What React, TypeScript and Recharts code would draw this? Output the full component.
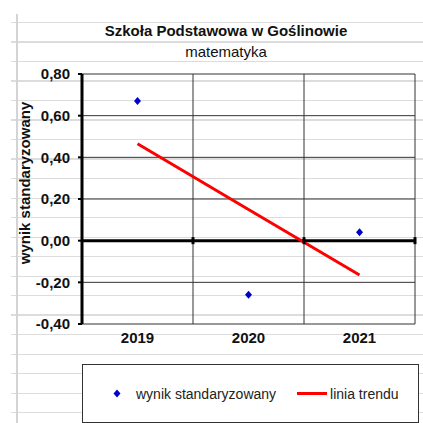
import {
  ComposedChart, Line, Scatter, XAxis, YAxis, CartesianGrid, Legend, ReferenceLine, ReferenceDot, Label
} from 'recharts'

const years = [2019, 2020, 2021]
const scores = [0.67, -0.26, 0.04]
const trend = [0.465, 0.15, -0.165]
const yearBounds = [2018.5, 2019.5, 2020.5, 2021.5]
const yTicks = [-0.4, -0.2, 0, 0.2, 0.4, 0.6, 0.8]

const rows = years.map((year, idx) => ({
  year,
  score: scores[idx],
  trend: trend[idx]
}))

const FONT = '"Liberation Sans", Arial, sans-serif'

const fmt = (v: number) => v.toFixed(2).replace('.', ',').replace('-0,00', '0,00')

function Diamond(props: any) {
  const { cx, cy } = props
  if (cx == null || cy == null) return null
  return (
    <path
      d={`M${cx},${cy - 4} L${cx + 3.5},${cy} L${cx},${cy + 4} L${cx - 3.5},${cy} Z`}
      fill="#0000cc"
    />
  )
}

function LegendBox() {
  return (
    <div style={{
      boxSizing: 'border-box', width: 337, height: 59, border: '1px solid #333',
      background: '#fff', display: 'flex', alignItems: 'center', paddingLeft: 30,
      fontFamily: FONT, fontSize: 14, color: '#222'
    }}>
      <svg width={8} height={9} style={{ marginRight: 15 }}>
        <path d="M4,0.5 L7.5,4.5 L4,8.5 L0.5,4.5 Z" fill="#0000cc" />
      </svg>
      <span>wynik standaryzowany</span>
      <span style={{ display: 'inline-block', width: 30, height: 3, background: '#ff0000', marginLeft: 21, marginRight: 3 }} />
      <span>linia trendu</span>
    </div>
  )
}

function YLabel(props: any) {
  const { viewBox } = props
  const y = viewBox.y + viewBox.height / 2 - 16
  return (
    <text
      x={24} y={y} transform={`rotate(-90 24 ${y})`} textAnchor="middle" dominantBaseline="central"
      style={{ fontFamily: FONT, fontSize: 15, fontWeight: 'bold', fill: '#111' }}
    >
      wynik standaryzowany
    </text>
  )
}

// small tick marks where the category boundaries cross the zero line
function ZeroTick(props: any) {
  const { cx, cy } = props
  if (cx == null || cy == null) return null
  return <line x1={cx} x2={cx} y1={cy - 3.5} y2={cy + 3.5} stroke="#000" strokeWidth={3} />
}

export default function App() {
  return (
    <div style={{ position: 'absolute', left: 0, top: 0, width: 423, height: 423, background: '#fff', overflow: 'hidden' }}>
      <div style={{
        position: 'absolute', left: 11, top: 4, right: 0, bottom: 0,
        backgroundImage: 'repeating-linear-gradient(to bottom, transparent 0px, transparent 18px, #dcdcdc 18px, #dcdcdc 19.5px)'
      }} />
      <div style={{ position: 'absolute', left: 16, top: 14, width: 1.5, bottom: 0, background: '#d4d4d4' }} />
      <div style={{
        position: 'absolute', left: 0, width: 452, top: 22, textAlign: 'center',
        fontFamily: FONT, fontSize: 15, fontWeight: 'bold', color: '#111'
      }}>
        Szkoła Podstawowa w Goślinowie
      </div>
      <div style={{
        position: 'absolute', left: 0, width: 452, top: 43, textAlign: 'center',
        fontFamily: FONT, fontSize: 15, color: '#111'
      }}>
        matematyka
      </div>
      <ComposedChart
        width={423}
        height={423}
        data={rows}
        margin={{ top: 74, right: 8, left: 0, bottom: 69 }}
        style={{ position: 'absolute', left: 0, top: 0 }}
      >
        <CartesianGrid stroke="#333" strokeWidth={1} verticalValues={yearBounds} />
        <XAxis
          dataKey="year"
          type="number"
          domain={[2018.5, 2021.5]}
          ticks={years}
          axisLine={false}
          tickLine={false}
          height={30}
          interval={0}
          tick={{ fontFamily: FONT, fontSize: 15, fontWeight: 'bold', fill: '#111' }}
        />
        <YAxis
          type="number"
          domain={[-0.4, 0.8]}
          ticks={yTicks}
          width={82}
          tickFormatter={fmt}
          axisLine={{ stroke: '#000', strokeWidth: 3 }}
          tickLine={{ stroke: '#000', strokeWidth: 2 }}
          tickSize={4}
          tickMargin={8}
          tick={{ fontFamily: FONT, fontSize: 15, fontWeight: 'bold', fill: '#111' }}
        >
          <Label content={<YLabel />} />
        </YAxis>
        <ReferenceLine y={0} stroke="#000" strokeWidth={3} />
        {yearBounds.slice(1).map(b => (
          <ReferenceDot key={b} x={b} y={0} shape={<ZeroTick />} ifOverflow="visible" />
        ))}
        <Line
          dataKey="trend"
          stroke="#ff0000"
          strokeWidth={3}
          dot={false}
          isAnimationActive={false}
          name="linia trendu"
        />
        <Scatter
          dataKey="score"
          shape={<Diamond />}
          isAnimationActive={false}
          name="wynik standaryzowany"
        />
        <Legend
          layout="horizontal"
          verticalAlign="middle"
          align="center"
          content={<LegendBox />}
          wrapperStyle={{ left: 82, top: 364, width: 337, height: 59 }}
        />
      </ComposedChart>
    </div>
  )
}
